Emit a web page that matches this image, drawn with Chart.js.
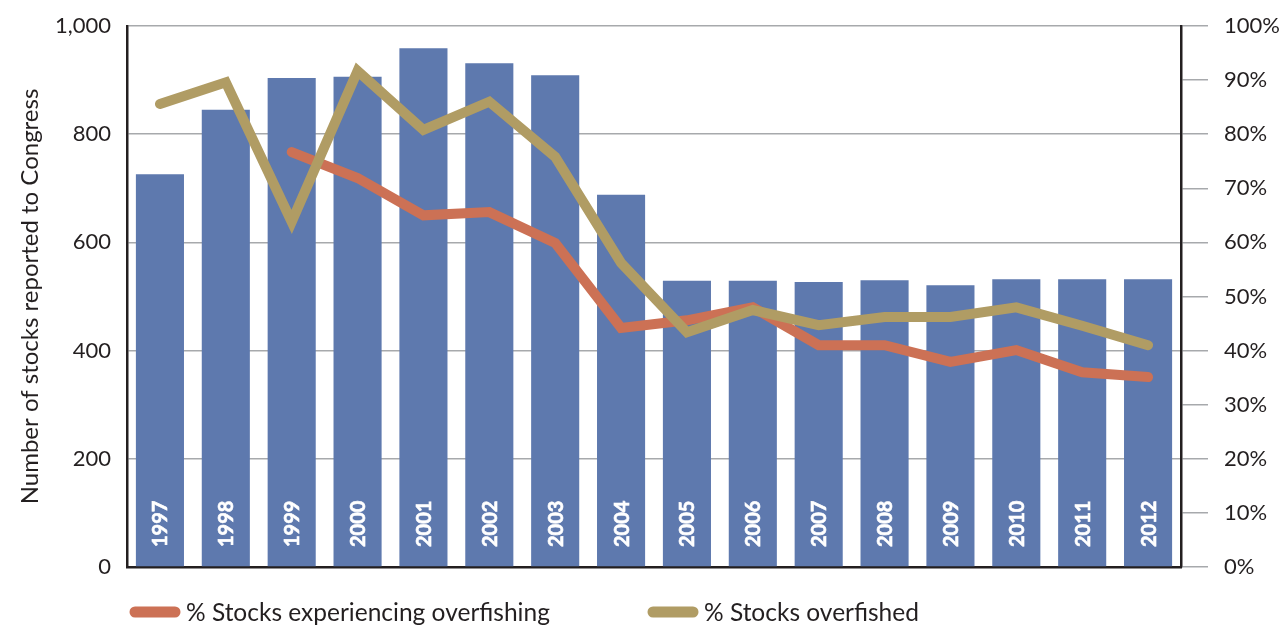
<!DOCTYPE html>
<html>
<head>
<meta charset="utf-8">
<script src="https://cdn.jsdelivr.net/npm/chart.js@4"></script>
<style>
html,body{margin:0;padding:0;background:#fff}
#wrap{width:1288px;height:625px}
</style>
</head>
<body>
<div id="wrap"><canvas id="c" width="1288" height="625"></canvas></div>
<script>
const years = ['1997','1998','1999','2000','2001','2002','2003','2004','2005','2006','2007','2008','2009','2010','2011','2012']
const stocksReported = [726,845,904,906,959,931,909,688,529,529,527,530,521,532,532,532]
const pctOverfishing = [null,null,76.7,71.9,65,65.6,59.9,44.2,45.6,48,41,41,37.9,40.1,36,35.1]
const pctOverfished = [85.6,89.6,63.8,91.7,80.8,86,75.8,56.2,43.4,47.5,44.7,46.2,46.2,48,44.6,41]
const leftTicks = [0,200,400,600,800,1000]

const 字体 = 'Lato, "Open Sans", sans-serif'
const 文字色 = '#231f20'

// year labels written up the inside of each bar
const 年份标签 = {
  id:'年份标签',
  afterDatasetsDraw(chart){
    const ctx = chart.ctx
    const meta = chart.getDatasetMeta(0)
    ctx.save()
    ctx.fillStyle = '#fff'
    ctx.font = 'bold 20px '+字体
    ctx.textAlign = 'left'
    ctx.textBaseline = 'middle'
    meta.data.forEach((bar,i)=>{
      ctx.save()
      ctx.translate(bar.x, chart.chartArea.bottom-20)
      ctx.rotate(-Math.PI/2)
      ctx.fillText(years[i],0,1)
      ctx.strokeStyle = '#fff'
      ctx.lineWidth = 0.6
      ctx.strokeText(years[i],0,1)
      ctx.restore()
    })
    ctx.restore()
  }
}

// legend under the plot, line swatches
const 图例 = {
  id:'图例',
  afterDraw(chart){
    const ctx = chart.ctx
    const items = [chart.data.datasets[1], chart.data.datasets[2]]
    const starts = [135, 653]
    const y = 612
    ctx.save()
    ctx.font = '24.5px '+字体
    ctx.textBaseline = 'middle'
    items.forEach((ds,i)=>{
      const x = starts[i]
      ctx.strokeStyle = ds.borderColor
      ctx.lineWidth = 11
      ctx.lineCap = 'round'
      ctx.beginPath()
      ctx.moveTo(x,y)
      ctx.lineTo(x+40,y)
      ctx.stroke()
      ctx.fillStyle = 文字色
      ctx.fillText(ds.label, x+51, y+1)
    })
    ctx.restore()
  }
}

new Chart(document.getElementById('c'),{
  type:'bar',
  data:{
    labels:years,
    datasets:[
      {label:'Number of stocks reported to Congress',data:stocksReported,backgroundColor:'#5e79ae',yAxisID:'y',order:3,
        barPercentage:0.73,categoryPercentage:1},
      {type:'line',label:'% Stocks experiencing overfishing',data:pctOverfishing,borderColor:'#cc7155',borderWidth:10,
        pointRadius:0,tension:0,yAxisID:'y1',order:2,borderCapStyle:'round',borderJoinStyle:'miter',spanGaps:false},
      {type:'line',label:'% Stocks overfished',data:pctOverfished,borderColor:'#b09c64',borderWidth:10,
        pointRadius:0,tension:0,yAxisID:'y1',order:1,borderCapStyle:'round',borderJoinStyle:'miter'}
    ]
  },
  options:{
    responsive:false,
    animation:false,
    layout:{padding:{top:26,right:0,left:0,bottom:0}},
    plugins:{legend:{display:false},tooltip:{enabled:false}},
    scales:{
      x:{
        grid:{display:false},
        ticks:{display:false},
        border:{color:'#231f20',width:2.5},
        afterFit(s){s.height=58}
      },
      y:{
        position:'left',min:0,max:1000,
        afterBuildTicks(s){s.ticks=leftTicks.map(v=>({value:v}))},
        ticks:{padding:16,color:文字色,font:{family:字体,size:22},callback:v=>v.toLocaleString('en-US')},
        grid:{color:'#a7a9ac',lineWidth:1.5,drawTicks:false},
        border:{color:'#231f20',width:2.5},
        title:{display:true,text:'Number of stocks reported to Congress',color:文字色,font:{family:字体,size:24},padding:{top:16,bottom:0}},
        afterFit(s){s.width=127;s.paddingTop=0;s.paddingBottom=0}
      },
      y1:{
        position:'right',min:0,max:100,
        ticks:{stepSize:10,padding:16,color:文字色,font:{family:字体,size:22},callback:v=>v+'%'},
        grid:{drawOnChartArea:false,color:'#a7a9ac',lineWidth:1.5,tickLength:27},
        border:{color:'#231f20',width:2.5},
        afterFit(s){s.width=107;s.paddingTop=0;s.paddingBottom=0}
      }
    }
  },
  plugins:[年份标签,图例]
})
</script>
</body>
</html>
